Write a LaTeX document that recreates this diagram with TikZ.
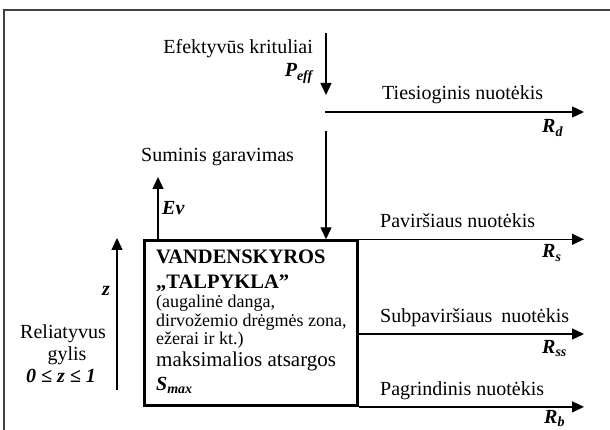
\documentclass[tikz,border=0pt]{standalone}
\usepackage{fontspec}
\setmainfont{Liberation Serif}
\usetikzlibrary{arrows.meta}
\usetikzlibrary{calc}

\begin{document}
\begin{tikzpicture}[x=1pt, y=-1pt,
    flow/.style = {black, line width=1.3pt, -{Triangle[length=12pt,width=11pt]}},
    txt/.style = {inner sep=0pt, font=\fontsize{20}{22}\selectfont},
    note/.style = {inner sep=0pt, font=\fontsize{18}{20}\selectfont},
    sym/.style = {inner sep=0pt, font=\fontsize{20}{22}\selectfont\bfseries\itshape}]
            \useasboundingbox (0,0) rectangle (610,430);
            \draw[black!75, line width=2pt] (4,430) -- (4,10) -- (610,10);

            \node[draw, line width=2.6pt, anchor=north west, minimum width=213pt, minimum height=165pt, inner sep=0pt] (store) at (143.3,239.3) {};

            \coordinate (raintop) at (326,33);
            \coordinate (rainend) at (326,95);
            \coordinate (directstart) at (325,112);
            \coordinate (directend) at (584,112);
            \coordinate (inflowtop) at (326,131);
            \coordinate (evtop) at (158,177);
            \coordinate (ztop) at (117,238);
            \coordinate (zbottom) at (117,390);
            \coordinate (subend) at (584,334);

            \draw[flow] (raintop) -- (rainend);
            \draw[flow] (directstart) -- (directend);
            \draw[flow] (inflowtop) -- (inflowtop |- store.north);
            \draw[flow] (evtop |- store.north) -- (evtop);
            \draw[flow] (zbottom) -- (ztop);
            \draw[flow] (store.north east) -- (directend |- store.north);
            \draw[flow] (subend -| store.east) -- (subend);
            \draw[flow] (store.south east) -- (directend |- store.south);

            \node[txt, anchor=base east] (rainlbl) at (313,54) {Efektyvūs krituliai};
            \node[sym, anchor=base east] (rainsym) at (313,77) {P\textsubscript{eff}};
            \node[txt, anchor=base west] (directlbl) at (382,100) {Tiesioginis nuotėkis};
            \node[sym, anchor=base west] (directsym) at (542,133) {R\textsubscript{d}};
            \node[txt, anchor=base west] (evlbl) at (141,162) {Suminis garavimas};
            \node[sym, anchor=base west] (evsym) at (162,215) {Ev};
            \node[txt, anchor=base west] (surflbl) at (380,228) {Paviršiaus nuotėkis};
            \node[sym, anchor=base west] (surfsym) at (542,258) {R\textsubscript{s}};
            \node[txt, anchor=base west] (sublbl) at (380,322) {Subpaviršiaus\hspace{4pt} nuotėkis};
            \node[sym, anchor=base west] (subsym) at (542,353) {R\textsubscript{ss}};
            \node[txt, anchor=base west] (baselbl) at (380,395) {Pagrindinis nuotėkis};
            \node[sym, anchor=base west] (basesym) at (544,423) {R\textsubscript{b}};

            \node[sym, anchor=base east] (zsym) at (110,295) {z};
            \node[txt, anchor=base] (depth1) at (63,338) {Reliatyvus};
            \node[txt, anchor=base] (depth2) at (67,360) {gylis};
            \node[sym, anchor=base] (depth3) at (61,382) {0 ≤ z ≤ 1};

            \node[txt, anchor=base west, font=\fontsize{20.5}{22}\selectfont\bfseries] (store1) at (156,264) {VANDENSKYROS};
            \node[txt, anchor=base west, font=\fontsize{20.5}{22}\selectfont\bfseries] (store2) at (156,288) {„TALPYKLA”};
            \node[note, anchor=base west] (store3) at (156,307) {(augalinė danga,};
            \node[note, anchor=base west] (store4) at (156,326) {dirvožemio drėgmės zona,};
            \node[note, anchor=base west] (store5) at (156,344) {ežerai ir kt.)};
            \node[txt, anchor=base west, font=\fontsize{21}{23}\selectfont] (store6) at (156,366) {maksimalios atsargos};
            \node[sym, anchor=base west] (store7) at (156,390) {S\textsubscript{max}};

        \end{tikzpicture}
\end{document}
